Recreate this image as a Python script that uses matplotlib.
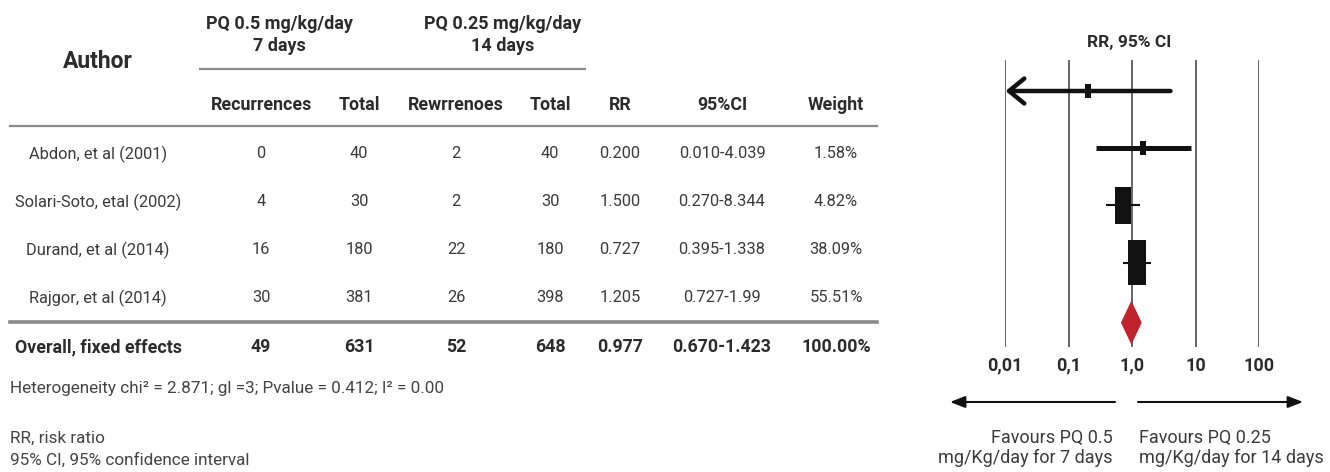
#!/usr/bin/env python3
import numpy as np
import matplotlib
matplotlib.use("Agg")
import matplotlib.pyplot as plt
from matplotlib.patches import Rectangle, Polygon

plt.rcParams['font.family'] = ['Roboto', 'DejaVu Sans']

# study data
authors = ["Abdon, et al (2001)", "Solari-Soto, etal (2002)",
           "Durand, et al (2014)", "Rajgor, et al (2014)"]
rec_a = [0, 4, 16, 30]
tot_a = [40, 30, 180, 381]
rec_b = [2, 2, 22, 26]
tot_b = [40, 30, 180, 398]
rr = [0.200, 1.500, 0.727, 1.205]
ci_lo = [0.010, 0.270, 0.395, 0.727]
ci_hi = [4.039, 8.344, 1.338, 1.99]
ci_txt = ["0.010-4.039", "0.270-8.344", "0.395-1.338", "0.727-1.99"]
weight = [1.58, 4.82, 38.09, 55.51]

# pooled (fixed effects)
pooled_label = "Overall, fixed effects"
pooled_rec_a, pooled_tot_a = 49, 631
pooled_rec_b, pooled_tot_b = 52, 648
pooled_rr, pooled_lo, pooled_hi = 0.977, 0.670, 1.423
pooled_ci_txt = "0.670-1.423"
pooled_weight = 100.00

col_headers = ["Recurrences", "Total", "Rewrrenoes", "Total", "RR", "95%CI", "Weight"]
tick_vals = [0.01, 0.1, 1.0, 10, 100]
tick_labels = ["0,01", "0,1", "1,0", "10", "100"]

W, H = 1330, 472
fig = plt.figure(figsize=(W / 100, H / 100), dpi=100)
ax = fig.add_axes([0, 0, 1, 1])
ax.set_xlim(0, W)
ax.set_ylim(H, 0)
ax.axis("off")

dark = "#2b2b2b"
txt = "#3a3a3a"
rule = "#8a8a8a"

# ---- table ----
col_x = [98, 261, 359, 456, 550, 620, 722, 836]
row_y = [154, 202, 250, 298]
over_y = 347

ax.text(98, 62, "Author", ha="center", va="center", fontsize=16.5, fontweight="bold", color=dark)
ax.text(279, 35, "PQ 0.5 mg/kg/day\n7 days", ha="center", va="center", fontsize=13,
        fontweight="bold", color=dark, linespacing=1.25)
ax.text(503, 35, "PQ 0.25 mg/kg/day\n14 days", ha="center", va="center", fontsize=13,
        fontweight="bold", color=dark, linespacing=1.25)
ax.plot([200, 585], [69, 69], color=rule, lw=1.6)

for x, h in zip(col_x[1:], col_headers):
    ax.text(x, 105, h, ha="center", va="center", fontsize=12.8, fontweight="bold", color=dark)
ax.plot([10, 877], [126, 126], color=rule, lw=1.6)

for i, y in enumerate(row_y):
    vals = [authors[i], rec_a[i], tot_a[i], rec_b[i], tot_b[i],
            f"{rr[i]:.3f}", ci_txt[i], f"{weight[i]:.2f}%"]
    for x, v in zip(col_x, vals):
        ax.text(x, y, str(v), ha="center", va="center", fontsize=11.8, color=txt)

ax.plot([10, 877], [322, 322], color=rule, lw=2.6)
pooled_vals = [pooled_label, pooled_rec_a, pooled_tot_a, pooled_rec_b, pooled_tot_b,
               f"{pooled_rr:.3f}", pooled_ci_txt, f"{pooled_weight:.2f}%"]
for x, v in zip(col_x, pooled_vals):
    ax.text(x, over_y, str(v), ha="center", va="center", fontsize=12.8,
            fontweight="bold", color=dark)

foot = "#444444"
ax.text(10, 389, "Heterogeneity chi\u00b2 = 2.871; gl =3; Pvalue = 0.412; I\u00b2 = 0.00",
        ha="left", va="center", fontsize=12.3, color=foot)
ax.text(10, 438, "RR, risk ratio", ha="left", va="center", fontsize=12.3, color=foot)
ax.text(10, 460, "95% CI, 95% confidence interval", ha="left", va="center", fontsize=12.3, color=foot)

# ---- forest plot ----
fx0, fx1, fy0, fy1 = 1005, 1259, 60, 347
fax = fig.add_axes([fx0 / W, 1 - fy1 / H, (fx1 - fx0) / W, (fy1 - fy0) / H])
fax.set_xscale("log")
fax.set_xlim(0.01, 100)
row_px = 57.2
fax.set_ylim((fy1 - 91) / row_px, -(91 - fy0) / row_px)
for s in fax.spines.values():
    s.set_visible(False)
fax.set_yticks([])
fax.set_xticks(tick_vals)
fax.set_xticklabels(tick_labels, fontsize=13, fontweight="bold", color=dark)
fax.tick_params(axis="x", length=0, pad=7)
fax.minorticks_off()
fax.patch.set_alpha(0)
for t in tick_vals:
    fax.axvline(t, color="#666666", lw=1.4, zorder=1)

dec_px = (fx1 - fx0) / 4.0
for i in range(len(rr)):
    thin = weight[i] < 10
    lw = 3.6 if thin else 1.5
    lo = max(ci_lo[i], 0.01)
    if ci_lo[i] <= 0.01:
        fax.annotate("", xy=(0.0102, i), xytext=(ci_hi[i], i),
                     arrowprops=dict(arrowstyle="->,head_length=1.1,head_width=0.9",
                                     color="#111111", lw=3.2, shrinkA=0, shrinkB=0),
                     zorder=3)
    else:
        fax.plot([lo, ci_hi[i]], [i, i], color="#111111", lw=lw,
                 solid_capstyle="butt", zorder=3)
    bw = max(2.5 * np.sqrt(weight[i]), 6) / dec_px / 2
    bh = max(6.0 * np.sqrt(weight[i]), 14) / row_px
    fax.add_patch(Rectangle((rr[i] / 10 ** bw, i - bh / 2), rr[i] * 10 ** bw - rr[i] / 10 ** bw, bh,
                            facecolor="#111111", edgecolor="none", zorder=4))

# pooled diamond
dy = 22 / row_px
py = 4.05
fax.add_patch(Polygon([(pooled_lo, py), (pooled_rr, py - dy), (pooled_hi, py), (pooled_rr, py + dy)],
                      closed=True, facecolor="#c0232b", edgecolor="none", zorder=4))

ax.text(1129, 43, "RR, 95% CI", ha="center", va="center", fontsize=12.5, fontweight="bold", color=dark)

# direction arrows
ax.annotate("", xy=(950, 402), xytext=(1115, 402),
            arrowprops=dict(arrowstyle="-|>,head_length=0.9,head_width=0.35", color="#111111",
                            lw=1.5, shrinkA=0, shrinkB=0))
ax.annotate("", xy=(1303, 402), xytext=(1138, 402),
            arrowprops=dict(arrowstyle="-|>,head_length=0.9,head_width=0.35", color="#111111",
                            lw=1.5, shrinkA=0, shrinkB=0))
ax.text(1113, 448, "Favours PQ 0.5\nmg/Kg/day for 7 days", ha="right", va="center",
        fontsize=13, color=txt, linespacing=1.1)
ax.text(1139, 448, "Favours PQ 0.25\nmg/Kg/day for 14 days", ha="left", va="center",
        fontsize=13, color=txt, linespacing=1.1)

fig.savefig("out.png", dpi=100)
